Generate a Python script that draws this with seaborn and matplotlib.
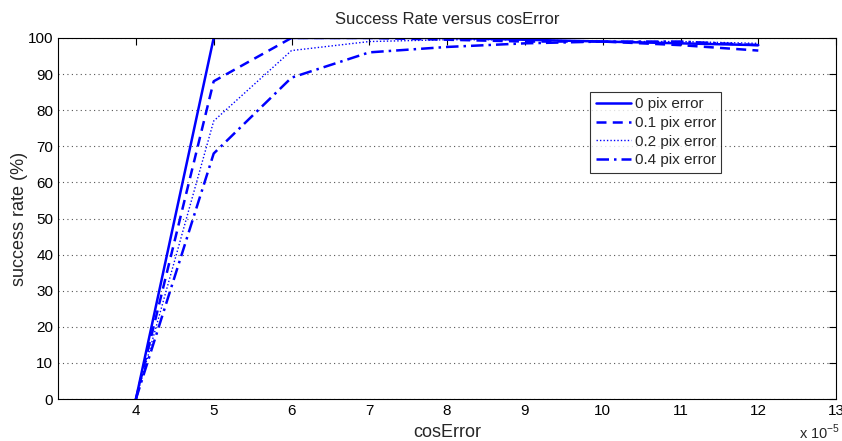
import seaborn as sns
import matplotlib.pyplot as plt
import pandas as pd

# cosError values (in units of 1e-5)
cos_error = [4, 5, 6, 7, 8, 9, 10, 11, 12]
rate_0px = [0, 100, 100, 100, 100, 99.5, 99, 98.5, 98]
rate_01px = [0, 88, 100, 100, 99.5, 99, 99, 98, 96.5]
rate_02px = [0, 77, 96.5, 99, 99.5, 99.5, 99, 99, 98.5]
rate_04px = [0, 68, 89, 96, 97.5, 98.5, 99, 99, 98]

labels = ["0 pix error", "0.1 pix error", "0.2 pix error", "0.4 pix error"]
styles = {
    "0 pix error": ("-", 1.8),
    "0.1 pix error": ((0, (4, 2.5)), 1.8),
    "0.2 pix error": ((0, (1, 1.5)), 1.0),
    "0.4 pix error": ((0, (5, 2, 1, 2)), 1.8),
}

rows = []
for lab, vals in zip(labels, [rate_0px, rate_01px, rate_02px, rate_04px]):
    for x, y in zip(cos_error, vals):
        rows.append({"cosError": x, "rate": y, "series": lab})
df = pd.DataFrame(rows)

sns.set_style("white")
plt.rcParams["font.family"] = ["Liberation Sans", "DejaVu Sans"]
plt.rcParams["mathtext.fontset"] = "custom"
plt.rcParams["mathtext.rm"] = "Liberation Sans"

fig = plt.figure(figsize=(8.42, 4.41), dpi=100)
ax = fig.add_axes([0.069, 0.095, 0.924, 0.819])

for lab in labels:
    ls, lw = styles[lab]
    sns.lineplot(
        data=df[df["series"] == lab],
        x="cosError",
        y="rate",
        color="#0000ff",
        linestyle=ls,
        linewidth=lw,
        label=lab,
        ax=ax,
    )

ax.set_xlim(3, 13)
ax.set_ylim(0, 100)
ax.set_xticks(range(4, 14))
ax.set_yticks(range(0, 101, 10))
ax.yaxis.grid(True, linestyle=(0, (1, 3)), color="#555555", linewidth=0.8)
ax.xaxis.grid(False)
ax.tick_params(direction="in", length=5, top=True, right=True, labelsize=11, colors="black")
for s in ax.spines.values():
    s.set_color("black")
    s.set_linewidth(0.8)

ax.set_title("Success Rate versus cosError", fontsize=12, pad=10)
ax.set_xlabel("cosError", fontsize=13, labelpad=4)
ax.set_ylabel("success rate (%)", fontsize=13, labelpad=0)
fig.text(0.949, 0.004, r"x 10$^{\mathregular{-5}}$", fontsize=10.5)

leg = ax.legend(
    loc="upper left",
    bbox_to_anchor=(0.684, 0.85),
    borderaxespad=0,
    frameon=True,
    fancybox=False,
    edgecolor="black",
    fontsize=11,
    handlelength=2.3,
    borderpad=0.35,
    labelspacing=0.3,
    handletextpad=0.25,
)
leg.get_frame().set_linewidth(0.8)

plt.savefig("out.png")
